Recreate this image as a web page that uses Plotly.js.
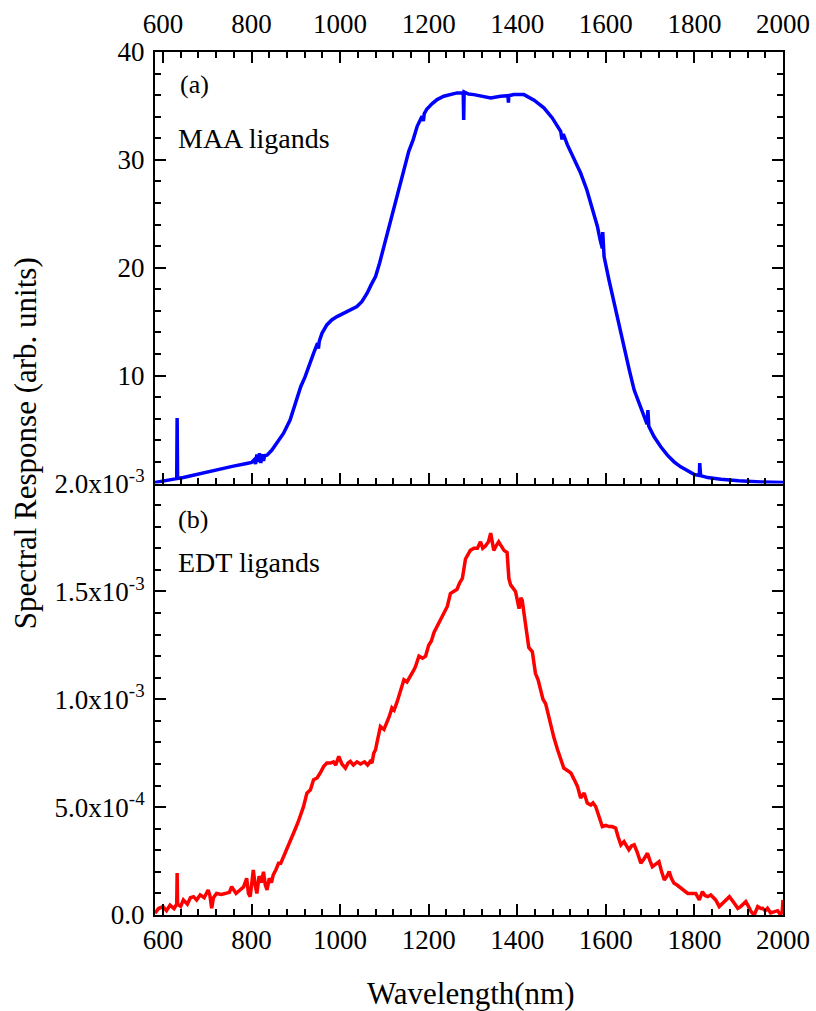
<!DOCTYPE html>
<html>
<head>
<meta charset="utf-8">
<script src="https://cdn.plot.ly/plotly-3.0.1.min.js"></script>
<style>
  html, body { margin: 0; padding: 0; background: #fff; }
  #chart { width: 816px; height: 1011px; }
</style>
</head>
<body>
<div id="chart"></div>
<script>
// (a) MAA-ligand device: wavelength (nm) and spectral response (arb. units)
const maaWavelength = [
  582, 600, 616, 631, 632, 633, 646, 684, 721, 759, 789, 800, 806, 809, 812, 815, 818, 821, 824, 827,
  830, 835, 846, 857, 872, 887, 902, 911, 921, 931, 940, 949, 951, 953, 959, 970, 981, 993, 1008, 1023,
  1038, 1049, 1061, 1070, 1080, 1089, 1098, 1107, 1117, 1127, 1136, 1146, 1155, 1165, 1174, 1185, 1188, 1190, 1196, 1208,
  1219, 1234, 1249, 1264, 1278, 1279, 1280, 1290, 1302, 1317, 1340, 1362, 1379, 1380, 1381, 1392, 1415, 1438, 1460, 1479,
  1498, 1501, 1504, 1513, 1528, 1543, 1557, 1570, 1581, 1587, 1592, 1593, 1594, 1596, 1607, 1619, 1630, 1641, 1653, 1664,
  1679, 1693, 1695, 1697, 1709, 1724, 1739, 1754, 1769, 1785, 1800, 1811, 1812, 1814, 1830, 1860, 1900, 1950, 2000
];
const maaResponse = [
  0.1, 0.25, 0.37, 0.45, 6.06, 0.47, 0.56, 0.93, 1.3, 1.61, 1.86, 1.95, 2.2, 1.8, 2.7, 2.0, 2.8, 1.9, 2.7, 2.1,
  2.6, 2.63, 3.1, 3.71, 4.64, 5.88, 7.7, 8.97, 9.9, 11.14, 12.07, 13.0, 12.5, 13.2, 13.92, 14.7, 15.16, 15.47, 15.78, 16.03,
  16.4, 16.86, 17.64, 18.41, 19.19, 20.42, 21.82, 23.36, 25.07, 26.46, 27.85, 29.4, 30.79, 31.88, 33.11, 34.04, 33.6, 34.3, 34.72, 35.22,
  35.59, 35.9, 36.05, 36.21, 36.2, 33.7, 36.3, 36.1, 36.05, 35.9, 35.74, 35.9, 35.95, 35.3, 35.95, 36.05, 36.05, 35.53, 34.82, 33.89,
  32.65, 31.9, 32.4, 31.41, 30.17, 28.78, 27.23, 25.38, 23.83, 22.6, 21.8, 23.3, 21.5, 21.04, 18.88, 16.71, 14.54, 12.38, 10.52, 8.66,
  6.96, 5.5, 6.8, 5.3, 4.33, 3.4, 2.63, 2.01, 1.54, 1.17, 0.83, 0.75, 1.9, 0.72, 0.55, 0.4, 0.25, 0.15, 0.1
];

// (b) EDT-ligand device: wavelength (nm) and spectral response (arb. units)
const edtWavelength = [
  582, 590, 600, 608, 616, 625, 631, 632, 633, 640, 646, 655, 662, 669, 676, 684, 693, 702, 706, 710,
  714, 721, 732, 744, 750, 755, 765, 774, 782, 789, 793, 797, 800, 804, 808, 812, 817, 822, 827, 831,
  835, 840, 845, 849, 855, 861, 866, 872, 880, 887, 893, 899, 905, 910, 917, 925, 933, 940, 948, 955,
  963, 970, 978, 985, 990, 997, 1004, 1012, 1018, 1023, 1030, 1038, 1046, 1055, 1062, 1068, 1072, 1076, 1080, 1083,
  1091, 1099, 1106, 1111, 1117, 1122, 1129, 1136, 1144, 1151, 1159, 1165, 1170, 1178, 1186, 1193, 1200, 1206, 1212, 1220,
  1227, 1235, 1242, 1249, 1256, 1264, 1270, 1276, 1283, 1288, 1294, 1302, 1310, 1317, 1322, 1328, 1335, 1340, 1344, 1347,
  1352, 1358, 1364, 1370, 1377, 1381, 1385, 1392, 1396, 1404, 1408, 1411, 1415, 1419, 1426, 1434, 1441, 1447, 1453, 1458,
  1464, 1470, 1475, 1483, 1491, 1498, 1505, 1513, 1521, 1528, 1536, 1543, 1551, 1558, 1566, 1571, 1577, 1584, 1592, 1600,
  1607, 1614, 1622, 1628, 1634, 1641, 1646, 1652, 1658, 1664, 1671, 1679, 1686, 1694, 1700, 1705, 1712, 1720, 1726, 1732,
  1738, 1743, 1748, 1754, 1760, 1769, 1777, 1785, 1795, 1803, 1811, 1818, 1824, 1830, 1837, 1843, 1848, 1856, 1862, 1870,
  1879, 1888, 1898, 1905, 1916, 1922, 1928, 1935, 1943, 1950, 1954, 1960, 1965, 1972, 1980, 1988, 1993, 1998, 2000
];
const edtResponse = [
  0.08e-4, 0.3e-4, 0.39e-4, 0.2e-4, 0.46e-4, 0.3e-4, 0.5e-4, 1.94e-4, 0.5e-4, 0.4e-4, 0.7e-4, 0.5e-4, 0.8e-4, 0.85e-4, 0.7e-4, 0.93e-4, 0.8e-4, 1.16e-4, 0.9e-4, 0.31e-4,
  0.8e-4, 1.0e-4, 0.95e-4, 1.0e-4, 1.05e-4, 1.31e-4, 1.0e-4, 1.16e-4, 1.3e-4, 1.7e-4, 1.0e-4, 0.85e-4, 1.3e-4, 2.09e-4, 1.4e-4, 1.0e-4, 1.8e-4, 1.5e-4, 2.0e-4, 1.4e-4,
  1.16e-4, 1.7e-4, 1.5e-4, 1.86e-4, 2.1e-4, 2.4e-4, 2.4e-4, 2.71e-4, 3.1e-4, 3.48e-4, 3.7e-4, 4.0e-4, 4.3e-4, 4.6e-4, 5.0e-4, 5.65e-4, 5.8e-4, 6.27e-4, 6.35e-4, 6.58e-4,
  6.89e-4, 7.04e-4, 7.04e-4, 7.1e-4, 6.95e-4, 7.35e-4, 7.0e-4, 6.81e-4, 7.05e-4, 7.12e-4, 6.95e-4, 7.1e-4, 7.0e-4, 7.1e-4, 6.95e-4, 7.12e-4, 7.05e-4, 7.5e-4, 7.66e-4, 7.97e-4,
  8.74e-4, 8.6e-4, 8.9e-4, 9.2e-4, 9.6e-4, 9.5e-4, 9.9e-4, 10.4e-4, 10.9e-4, 10.8e-4, 11.06e-4, 11.3e-4, 11.5e-4, 12.0e-4, 11.9e-4, 12.0e-4, 12.5e-4, 12.7e-4, 13.1e-4, 13.4e-4,
  13.7e-4, 14.0e-4, 14.3e-4, 14.9e-4, 15.0e-4, 15.1e-4, 15.4e-4, 15.6e-4, 16.5e-4, 16.7e-4, 16.9e-4, 17.0e-4, 17.0e-4, 17.3e-4, 17.0e-4, 17.1e-4, 17.3e-4, 17.7e-4, 17.2e-4, 16.9e-4,
  17.1e-4, 17.3e-4, 17.1e-4, 16.9e-4, 16.8e-4, 15.6e-4, 15.3e-4, 15.1e-4, 15.0e-4, 14.2e-4, 14.7e-4, 14.6e-4, 14.0e-4, 13.5e-4, 12.4e-4, 12.2e-4, 11.2e-4, 10.9e-4, 10.3e-4, 10.0e-4,
  9.8e-4, 9.3e-4, 8.74e-4, 8.2e-4, 7.66e-4, 7.2e-4, 6.81e-4, 6.7e-4, 6.58e-4, 6.3e-4, 5.96e-4, 5.42e-4, 5.65e-4, 5.19e-4, 5.1e-4, 5.2e-4, 5.03e-4, 4.6e-4, 4.1e-4, 4.15e-4,
  4.1e-4, 4.1e-4, 4.03e-4, 3.6e-4, 3.25e-4, 3.4e-4, 3.2e-4, 3.02e-4, 3.2e-4, 3.25e-4, 2.9e-4, 2.4e-4, 2.6e-4, 2.86e-4, 2.5e-4, 2.24e-4, 2.35e-4, 2.47e-4, 2.0e-4, 1.62e-4,
  1.8e-4, 2.01e-4, 1.7e-4, 1.47e-4, 1.4e-4, 1.24e-4, 1.1e-4, 1.0e-4, 1.0e-4, 1.0e-4, 0.7e-4, 1.08e-4, 0.9e-4, 0.85e-4, 0.93e-4, 0.8e-4, 0.7e-4, 0.39e-4, 0.5e-4, 0.7e-4,
  0.85e-4, 0.6e-4, 0.31e-4, 0.4e-4, 0.62e-4, 0.4e-4, 0.15e-4, 0.0, 0.39e-4, 0.3e-4, 0.31e-4, 0.2e-4, 0.31e-4, 0.1e-4, 0.15e-4, 0.2e-4, 0.05e-4, 0.1e-4, 0.7e-4
];

// Axis ticks and labels
const wavelengthTicks = [600, 800, 1000, 1200, 1400, 1600, 1800, 2000];
const maaTickVals = [0, 10, 20, 30, 40];
const maaTickText = ['', '10', '20', '30', '40'];
const edtTickVals = [0, 5e-4, 1e-3, 1.5e-3, 2e-3];
const edtTickText = ['0.0', '5.0x10<sup>-4</sup>', '1.0x10<sup>-3</sup>', '1.5x10<sup>-3</sup>', '2.0x10<sup>-3</sup>'];

const FONT = "'Liberation Serif', 'Times New Roman', 'DejaVu Serif', serif";

const traces = [
  { x: maaWavelength, y: maaResponse, xaxis: 'x2', yaxis: 'y', type: 'scatter', mode: 'lines',
    line: { color: '#0000ff', width: 3.5 }, hoverinfo: 'x+y' },
  { x: edtWavelength, y: edtResponse, xaxis: 'x', yaxis: 'y2', type: 'scatter', mode: 'lines',
    line: { color: '#ff0000', width: 3.5 }, hoverinfo: 'x+y' }
];

const axisCommon = {
  ticks: 'inside', ticklen: 11, tickwidth: 2, tickcolor: '#000',
  showline: true, linewidth: 2, linecolor: '#000',
  showgrid: false, zeroline: false,
  tickfont: { family: FONT, size: 27, color: '#000' }
};

const minorX = { tickmode: 'linear', tick0: 600, dtick: 40, ticks: 'inside', ticklen: 6, tickwidth: 2, tickcolor: '#000' };

const layout = {
  width: 816, height: 1011,
  margin: { l: 155, r: 33, t: 52, b: 96 },
  paper_bgcolor: '#fff', plot_bgcolor: '#fff',
  showlegend: false,
  font: { family: FONT, color: '#000' },
  xaxis: Object.assign({}, axisCommon, {
    anchor: 'y2', range: [582, 2000], tickvals: wavelengthTicks, minor: minorX
  }),
  xaxis2: Object.assign({}, axisCommon, {
    anchor: 'y', side: 'top', matches: 'x', range: [582, 2000], tickvals: wavelengthTicks, mirror: 'ticks',
    ticklabelstandoff: 6, minor: minorX
  }),
  yaxis: Object.assign({}, axisCommon, {
    anchor: 'x2', domain: [0.5, 1], range: [0, 40], tickvals: maaTickVals, ticktext: maaTickText, mirror: 'ticks',
    ticklabelstandoff: 3,
    minor: { tickmode: 'linear', tick0: 0, dtick: 2, ticks: 'inside', ticklen: 6, tickwidth: 2, tickcolor: '#000' }
  }),
  yaxis2: Object.assign({}, axisCommon, {
    anchor: 'x', domain: [0, 0.5], range: [0, 2e-3], tickvals: edtTickVals, ticktext: edtTickText, mirror: 'ticks',
    ticklabelstandoff: 3,
    minor: { tickmode: 'linear', tick0: 0, dtick: 1e-4, ticks: 'inside', ticklen: 6, tickwidth: 2, tickcolor: '#000' }
  }),
  annotations: [
    { text: '(a)', xref: 'paper', yref: 'paper', x: 0.036, y: 0.962, xanchor: 'left', yanchor: 'middle',
      showarrow: false, font: { family: FONT, size: 26 } },
    { text: 'MAA ligands', xref: 'paper', yref: 'paper', x: 0.033, y: 0.9, xanchor: 'left', yanchor: 'middle',
      showarrow: false, font: { family: FONT, size: 28 } },
    { text: '(b)', xref: 'paper', yref: 'paper', x: 0.033, y: 0.458, xanchor: 'left', yanchor: 'middle',
      showarrow: false, font: { family: FONT, size: 26 } },
    { text: 'EDT ligands', xref: 'paper', yref: 'paper', x: 0.033, y: 0.409, xanchor: 'left', yanchor: 'middle',
      showarrow: false, font: { family: FONT, size: 28 } },
    { text: 'Spectral Response (arb. units)', xref: 'paper', yref: 'paper', x: -0.205, y: 0.547,
      xanchor: 'center', yanchor: 'middle', textangle: -90, showarrow: false, font: { family: FONT, size: 31 } },
    { text: 'Wavelength(nm)', xref: 'paper', yref: 'paper', x: 0.503, y: -0.0904,
      xanchor: 'center', yanchor: 'middle', showarrow: false, font: { family: FONT, size: 31 } }
  ]
};

Plotly.newPlot('chart', traces, layout, { displayModeBar: false, staticPlot: true });
</script>
</body>
</html>
